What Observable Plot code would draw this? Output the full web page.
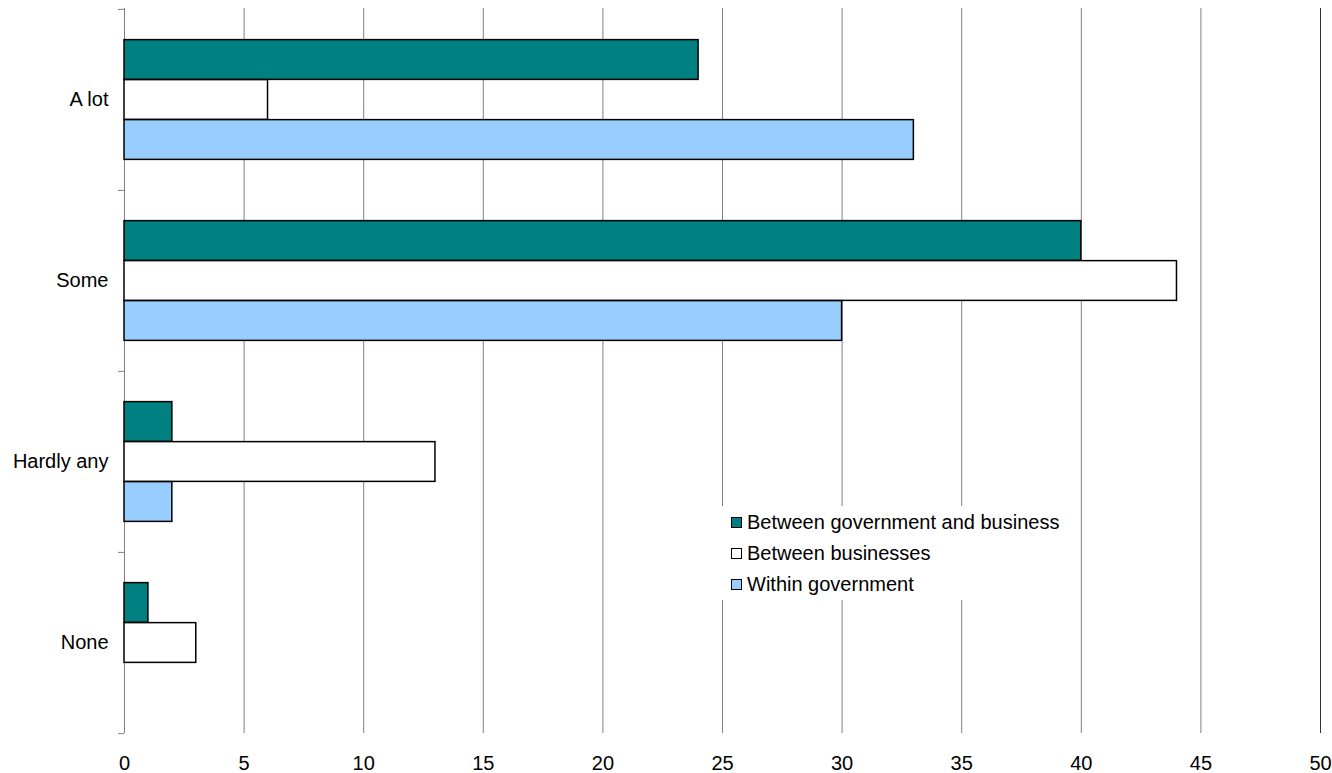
<!DOCTYPE html>
<html>
<head>
<meta charset="utf-8">
<script src="https://cdn.jsdelivr.net/npm/d3@7"></script>
<script src="https://cdn.jsdelivr.net/npm/@observablehq/plot@0.6"></script>
<style>
  body { margin: 0; background: #fff; }
  #wrap { position: relative; width: 1332px; height: 773px; font-family: "Liberation Sans", Arial, sans-serif; }
  #legend { position: absolute; left: 718px; top: 506px; width: 352px; height: 94px; background: #fff; font-size: 20px; color: #000; }
  .row { position: absolute; left: 13px; height: 24px; display: flex; align-items: center; }
  .sw { width: 9px; height: 9px; border: 1.5px solid #000; margin-right: 5px; }
</style>
</head>
<body>
<div id="wrap"></div>
<script>
const categories = ["A lot", "Some", "Hardly any", "None"];
const seriesNames = ["Between government and business", "Between businesses", "Within government"];
const seriesColors = ["#008080", "#ffffff", "#99ccff"];
const govBusiness = [24, 40, 2, 1];
const businesses = [6, 44, 13, 3];
const withinGov = [33, 30, 2, 0];
const xTicks = [0, 5, 10, 15, 20, 25, 30, 35, 40, 45, 50];

const seriesValues = [govBusiness, businesses, withinGov];
const W = 1332, H = 773, mt = 8, mb = 40, ml = 124, mr = 12;
const band = (H - mt - mb) / categories.length;
const barH = 40;
const pad = (band - 3 * barH) / 2;

const barMarks = seriesValues.map((vals, i) => {
  const data = categories.map((c, j) => ({cat: c, v: vals[j]})).filter(d => d.v > 0);
  return Plot.barX(data, {
    x: "v", y: "cat",
    fill: seriesColors[i], stroke: "#000", strokeWidth: 1.5,
    insetTop: pad + i * barH,
    insetBottom: band - pad - (i + 1) * barH
  });
});

const chart = Plot.plot({
  width: W, height: H,
  marginTop: mt, marginBottom: mb, marginLeft: ml, marginRight: mr,
  style: {fontFamily: "'Liberation Sans', Arial, sans-serif", fontSize: "20px", color: "#000", background: "#fff"},
  x: {domain: [0, 50], ticks: xTicks, label: null},
  y: {domain: categories, padding: 0, label: null},
  marks: [
    Plot.ruleX(xTicks.filter(t => t > 0 && t < 50), {stroke: "#808080", strokeWidth: 1, strokeOpacity: 1}),
    Plot.ruleX([50], {stroke: "#333", strokeWidth: 1}),
    Plot.ruleX([0], {stroke: "#808080", strokeWidth: 1}),
    Plot.ruleY(categories, {y: d => d, x1: -0.25, x2: 0, dy: -band / 2, stroke: "#808080"}),
    Plot.ruleY([categories[categories.length - 1]], {y: d => d, x1: -0.25, x2: 0, dy: band / 2, stroke: "#808080"}),
    ...barMarks,
    Plot.axisX({ticks: xTicks, tickSize: 0, tickPadding: 22, fontSize: 20, label: null}),
    Plot.axisY({tickSize: 0, tickPadding: 16, fontSize: 20, label: null})
  ]
});

const wrap = document.getElementById("wrap");
wrap.appendChild(chart);

const legend = document.createElement("div");
legend.id = "legend";
const rowTops = [4, 35, 66];
seriesNames.forEach((name, i) => {
  const row = document.createElement("div");
  row.className = "row";
  row.style.top = rowTops[i] + "px";
  const sw = document.createElement("div");
  sw.className = "sw";
  sw.style.background = seriesColors[i];
  const t = document.createElement("span");
  t.textContent = name;
  row.appendChild(sw);
  row.appendChild(t);
  legend.appendChild(row);
});
wrap.appendChild(legend);
</script>
</body>
</html>
